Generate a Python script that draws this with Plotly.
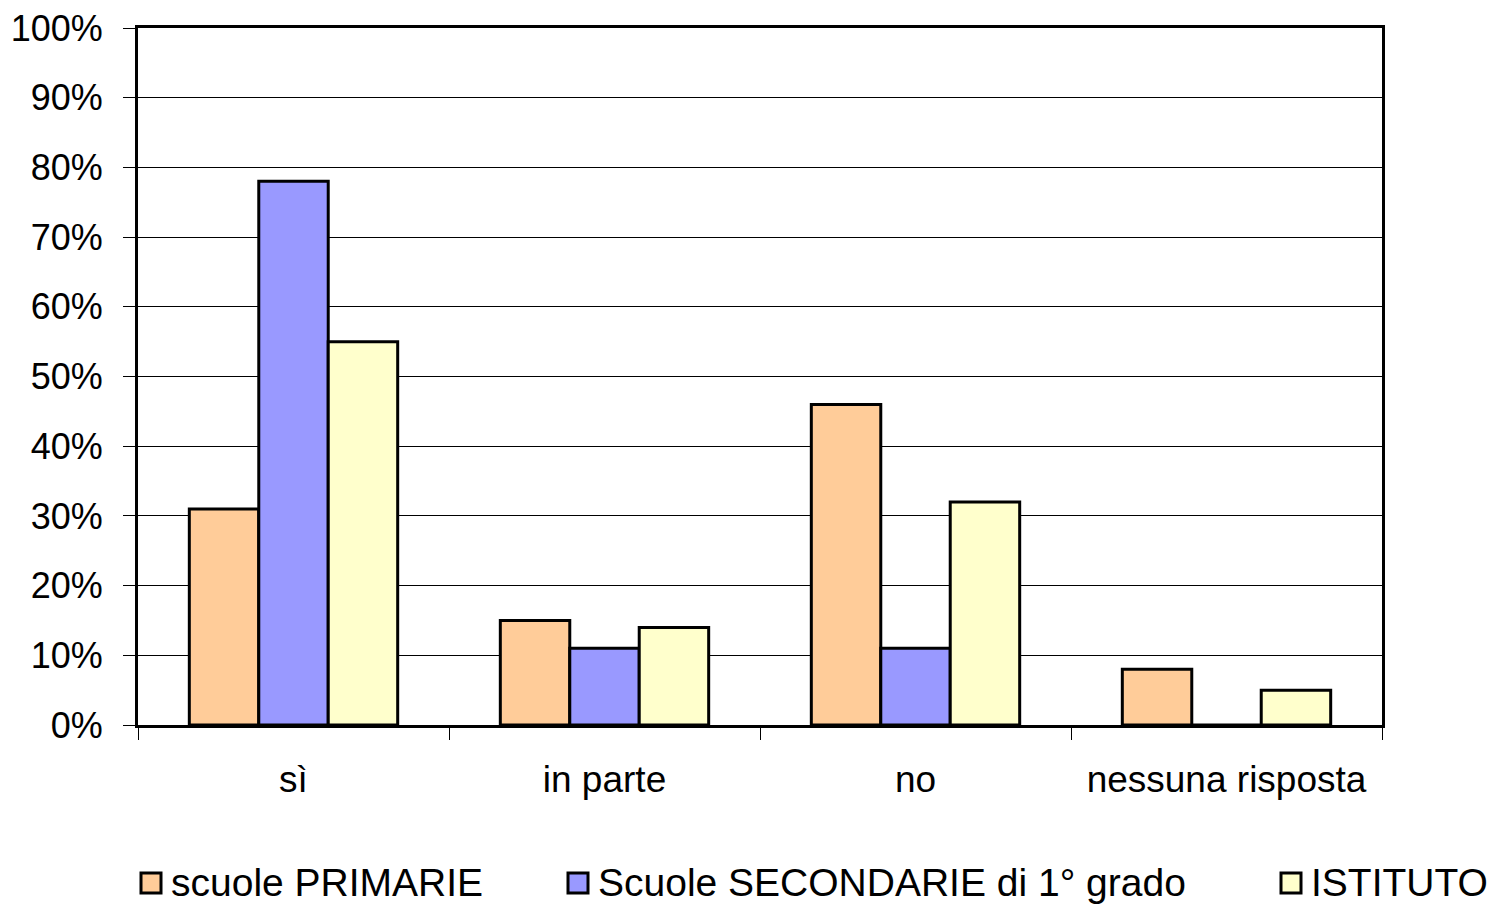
import plotly.graph_objects as go

categories = ["sì", "in parte", "no", "nessuna risposta"]
series_names = ["scuole PRIMARIE", "Scuole SECONDARIE di 1° grado", "ISTITUTO"]
primarie = [0.31, 0.15, 0.46, 0.08]
secondarie = [0.78, 0.11, 0.11, 0.0]
istituto = [0.55, 0.14, 0.32, 0.05]
colors = ["#FFCC99", "#9999FF", "#FFFFCC"]
y_ticks = [i / 10 for i in range(11)]

FONT = "Liberation Sans, Arial, sans-serif"

fig = go.Figure()
for name, vals, col in zip(series_names, [primarie, secondarie, istituto], colors):
    fig.add_trace(go.Bar(
        x=categories, y=vals, name=name,
        marker=dict(color=col, line=dict(color="black", width=3)),
        showlegend=False,
    ))

L, R, T, B = 138, 117, 28, 180
W, H = 1499, 905
pw, ph = W - L - R, H - T - B

def px_x(p):
    return (p - L) / pw

def px_y(p):
    return (H - B - p) / ph

# manual legend
legend_x = [141, 568, 1281]
shapes = []
annotations = []
for lx, name, col in zip(legend_x, series_names, colors):
    shapes.append(dict(
        type="rect", xref="paper", yref="paper",
        x0=px_x(lx), x1=px_x(lx + 20), y0=px_y(893), y1=px_y(873),
        fillcolor=col, line=dict(color="black", width=3),
    ))
    annotations.append(dict(
        xref="paper", yref="paper", x=px_x(lx + 28), y=px_y(883),
        text=name, showarrow=False, xanchor="left", yanchor="middle",
        font=dict(family=FONT, size=39, color="black"),
    ))

fig.update_layout(
    width=W, height=H,
    margin=dict(l=L, r=R, t=T, b=B, autoexpand=False),
    paper_bgcolor="white", plot_bgcolor="white",
    barmode="group", bargap=0.33, bargroupgap=0,
    shapes=shapes, annotations=annotations,
    font=dict(family=FONT, color="black"),
)
fig.update_yaxes(
    range=[0, 1], tickvals=y_ticks, tickformat=".0%",
    showgrid=True, gridcolor="black", gridwidth=1,
    showline=True, linecolor="black", linewidth=3, mirror=True,
    ticks="outside", ticklen=12, tickcolor="black", tickwidth=1,
    tickfont=dict(family=FONT, size=36, color="black"),
    ticklabelstandoff=13, zeroline=False, automargin=False,
)
fig.update_xaxes(
    showline=True, linecolor="black", linewidth=3, mirror=True,
    ticks="outside", ticklen=12, tickcolor="black", tickwidth=1,
    tickson="boundaries",
    tickfont=dict(family=FONT, size=37, color="black"),
    ticklabelstandoff=20, automargin=False,
)

fig.write_html(
    "out.html",
    config={"displayModeBar": False},
    post_script="document.body.style.margin='0';document.body.style.overflow='hidden';",
)
